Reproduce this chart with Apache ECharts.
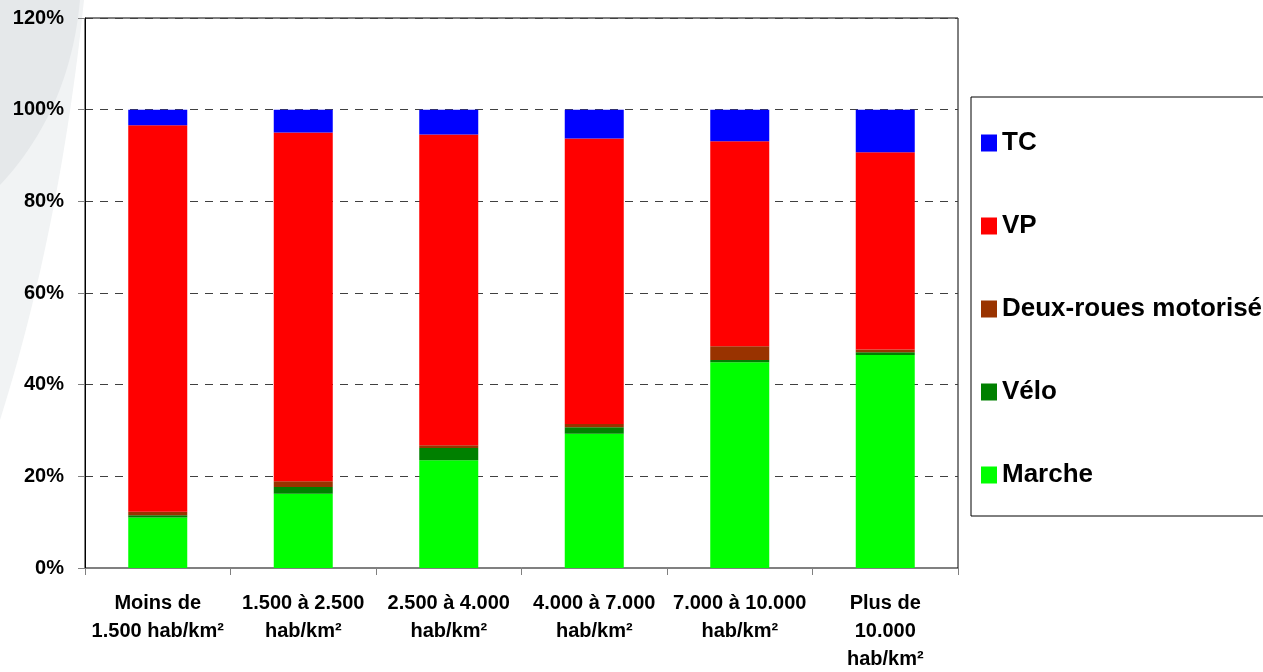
<!DOCTYPE html>
<html>
<head>
<meta charset="utf-8">
<title>Parts modales selon la densité</title>
<script src="https://cdn.jsdelivr.net/npm/echarts@6/dist/echarts.min.js"></script>
<style>
  html, body { margin: 0; padding: 0; background: #ffffff; }
  #chart { width: 1263px; height: 672px; }
</style>
</head>
<body>
<div id="chart"></div>
<script>
// Density classes (x axis)
const categories = [
  'Moins de\n1.500 hab/km²',
  '1.500 à 2.500\nhab/km²',
  '2.500 à 4.000\nhab/km²',
  '4.000 à 7.000\nhab/km²',
  '7.000 à 10.000\nhab/km²',
  'Plus de\n10.000\nhab/km²'
];

// Modal shares in % per density class
const marche = [11.0, 16.2, 23.5, 29.3, 44.9, 46.5];
const velo   = [0.5, 1.45, 2.7, 1.4, 0.5, 0.6];
const deuxRoues = [0.8, 1.3, 0.6, 0.7, 3.0, 0.6];
const vp     = [84.3, 76.05, 67.8, 62.3, 44.7, 43.0];
const tc     = [3.4, 5.0, 5.4, 6.3, 6.9, 9.3];

// Y axis ticks (%)
const yTicks = [0, 20, 40, 60, 80, 100, 120];

const FONT = '"Liberation Sans", Arial, Helvetica, sans-serif';

// Light grey curved backdrop in the top-left corner (quadratic curve outline)
function cornerShape(x0, yEnd, cx, cy) {
  const pts = [[0, 0], [x0, 0]];
  for (let i = 1; i <= 32; i++) {
    const t = i / 32;
    const x = (1 - t) * (1 - t) * x0 + 2 * (1 - t) * t * cx;
    const y = 2 * (1 - t) * t * cy + t * t * yEnd;
    pts.push([x, y]);
  }
  return pts;
}

const chart = echarts.init(document.getElementById('chart'), null, { renderer: 'canvas' });

function bar(name, data, color) {
  return {
    name: name,
    type: 'bar',
    stack: 'total',
    data: data,
    barWidth: 59,
    itemStyle: { color: color },
    emphasis: { disabled: true }
  };
}

chart.setOption({
  animation: false,
  backgroundColor: '#ffffff',
  textStyle: { fontFamily: FONT },
  graphic: [
    {
      type: 'polygon',
      z: -11,
      silent: true,
      shape: { points: cornerShape(84, 420, 60, 230) },
      style: { fill: '#f1f3f4' }
    },
    {
      type: 'polygon',
      z: -10,
      silent: true,
      shape: { points: cornerShape(80, 185, 70, 110) },
      style: { fill: '#e5e8ea' }
    }
  ],
  grid: {
    left: 85,
    right: 305,
    top: 18,
    bottom: 104,
    outerBoundsMode: 'none',
    show: true,
    borderColor: '#000000',
    borderWidth: 1,
    backgroundColor: 'transparent'
  },
  legend: {
    orient: 'vertical',
    left: 971,
    top: 97,
    padding: [33, 40, 28, 10],
    borderColor: '#000000',
    borderWidth: 1,
    backgroundColor: '#ffffff',
    icon: 'rect',
    itemWidth: 16,
    itemHeight: 17,
    itemGap: 57,
    selectedMode: false,
    data: ['TC', 'VP', 'Deux-roues motorisés', 'Vélo', 'Marche'],
    textStyle: {
      fontFamily: FONT,
      fontSize: 26,
      fontWeight: 'bold',
      color: '#000000',
      lineHeight: 26
    }
  },
  xAxis: {
    type: 'category',
    data: categories,
    axisLine: { lineStyle: { color: '#808080', width: 1 } },
    axisTick: { show: true, length: 7, lineStyle: { color: '#808080' } },
    axisLabel: {
      interval: 0,
      margin: 21,
      fontFamily: FONT,
      fontSize: 20,
      fontWeight: 'bold',
      color: '#000000',
      lineHeight: 28,
      align: 'center'
    },
    splitLine: { show: false }
  },
  yAxis: {
    type: 'value',
    min: yTicks[0],
    max: yTicks[yTicks.length - 1],
    interval: 20,
    axisLine: { show: true, lineStyle: { color: '#000000', width: 1 } },
    axisTick: { show: true, length: 7, lineStyle: { color: '#808080' } },
    axisLabel: {
      margin: 21,
      fontFamily: FONT,
      fontSize: 20,
      fontWeight: 'bold',
      color: '#000000',
      formatter: '{value}%'
    },
    splitLine: {
      show: true,
      lineStyle: { color: '#404040', type: [8, 7], width: 1 }
    }
  },
  series: [
    bar('Marche', marche, '#00ff00'),
    bar('Vélo', velo, '#008000'),
    bar('Deux-roues motorisés', deuxRoues, '#993300'),
    bar('VP', vp, '#ff0000'),
    bar('TC', tc, '#0000ff')
  ]
});
</script>
</body>
</html>
